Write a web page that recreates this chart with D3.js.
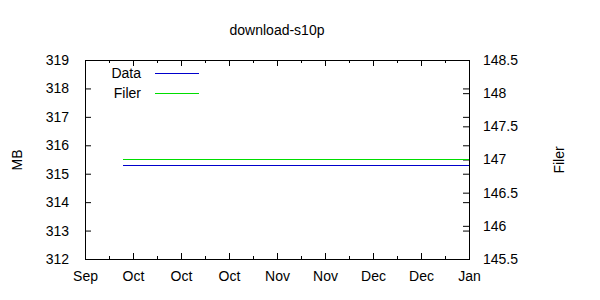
<!DOCTYPE html>
<html>
<head>
<meta charset="utf-8">
<script src="https://cdn.jsdelivr.net/npm/d3@7"></script>
<style>
  body { margin: 0; background: #fff; }
  text { font-family: "Liberation Sans", Arial, sans-serif; font-size: 14px; fill: #000; }
</style>
</head>
<body>
<div id="chart"></div>
<script>
// data
var dates = ["2007-09-28", "2008-01-07"];
var mbValues = [315.3, 315.3];
var filerValues = [147.0, 147.0];
var xTickDates = ["2007-09-17", "2007-10-01", "2007-10-15", "2007-10-29", "2007-11-12",
                  "2007-11-26", "2007-12-10", "2007-12-24", "2008-01-07"];
var yTicks = [312, 313, 314, 315, 316, 317, 318, 319];
var y2Ticks = [145.5, 146, 146.5, 147, 147.5, 148, 148.5];
var seriesNames = ["Data", "Filer"];
var seriesColors = ["#0000cc", "#00dd00"];

var width = 600, height = 300;
var plotL = 85, plotR = 469, plotT = 60, plotB = 259;

var parse = d3.timeParse("%Y-%m-%d");
var xt = xTickDates.map(parse);

var svg = d3.select("#chart").append("svg")
    .attr("width", width).attr("height", height);

var x = d3.scaleTime().domain([xt[0], xt[xt.length - 1]]).range([plotL, plotR]);
var y = d3.scaleLinear().domain([312, 319]).range([plotB, plotT]);
var y2 = d3.scaleLinear().domain([145.5, 148.5]).range([plotB, plotT]);

// minor ticks halfway between the major ones
var minor = [];
for (var i = 0; i < xt.length - 1; i++) {
  minor.push(new Date((xt[i].getTime() + xt[i + 1].getTime()) / 2));
}

var fmt = d3.timeFormat("%b");
var noDomain = g => g.select(".domain").remove();

// bottom axis
svg.append("g").attr("transform", "translate(0," + plotB + ")")
  .call(d3.axisBottom(x).tickValues(xt).tickFormat(fmt).tickSizeInner(-6).tickSizeOuter(0).tickPadding(12))
  .call(noDomain);
svg.append("g").attr("transform", "translate(0," + plotB + ")")
  .call(d3.axisBottom(x).tickValues(minor).tickFormat("").tickSizeInner(-3).tickSizeOuter(0))
  .call(noDomain);
// top mirror
svg.append("g").attr("transform", "translate(0," + plotT + ")")
  .call(d3.axisTop(x).tickValues(xt).tickFormat("").tickSizeInner(-6).tickSizeOuter(0))
  .call(noDomain);
svg.append("g").attr("transform", "translate(0," + plotT + ")")
  .call(d3.axisTop(x).tickValues(minor).tickFormat("").tickSizeInner(-3).tickSizeOuter(0))
  .call(noDomain);

// left axis
svg.append("g").attr("transform", "translate(" + plotL + ",0)")
  .call(d3.axisLeft(y).tickValues(yTicks).tickFormat(d3.format("d")).tickSizeInner(-6).tickSizeOuter(0).tickPadding(16))
  .call(noDomain);
// right mirror of left ticks
svg.append("g").attr("transform", "translate(" + plotR + ",0)")
  .call(d3.axisRight(y).tickValues(yTicks).tickFormat("").tickSizeInner(-6).tickSizeOuter(0))
  .call(noDomain);
// right axis (Filer)
svg.append("g").attr("transform", "translate(" + plotR + ",0)")
  .call(d3.axisRight(y2).tickValues(y2Ticks).tickFormat(d3.format("")).tickSizeInner(-6).tickSizeOuter(0).tickPadding(14))
  .call(noDomain);

svg.selectAll(".tick line").attr("stroke", "#000");
svg.selectAll(".tick text").attr("font-family", null).attr("font-size", null);

// frame
svg.append("rect")
  .attr("x", plotL).attr("y", plotT)
  .attr("width", plotR - plotL).attr("height", plotB - plotT)
  .attr("fill", "none").attr("stroke", "#000").attr("stroke-width", 1)
  .attr("shape-rendering", "crispEdges");

// lines
var d1 = dates.map((d, i) => ({ t: parse(d), v: mbValues[i] }));
var d2 = dates.map((d, i) => ({ t: parse(d), v: filerValues[i] }));

svg.append("path").datum(d1)
  .attr("fill", "none").attr("stroke", seriesColors[0]).attr("stroke-width", 1)
  .attr("shape-rendering", "crispEdges")
  .attr("d", d3.line().x(d => x(d.t)).y(d => y(d.v)));
svg.append("path").datum(d2)
  .attr("fill", "none").attr("stroke", seriesColors[1]).attr("stroke-width", 1)
  .attr("shape-rendering", "crispEdges")
  .attr("d", d3.line().x(d => x(d.t)).y(d => y2(d.v)));

// legend
var legend = svg.append("g");
seriesNames.forEach(function (name, i) {
  var ly = 73 + i * 20;
  legend.append("text").attr("x", 141).attr("y", ly).attr("dy", "0.35em")
    .attr("text-anchor", "end").text(name);
  legend.append("line").attr("x1", 155).attr("x2", 199).attr("y1", ly).attr("y2", ly)
    .attr("stroke", seriesColors[i]).attr("stroke-width", 1)
    .attr("shape-rendering", "crispEdges");
});

// title and axis labels
svg.append("text").attr("x", 277).attr("y", 30).attr("dy", "0.35em")
  .attr("text-anchor", "middle").text("download-s10p");
svg.append("text").attr("transform", "translate(17,160) rotate(-90)").attr("dy", "0.35em")
  .attr("text-anchor", "middle").text("MB");
svg.append("text").attr("transform", "translate(559,160) rotate(-90)").attr("dy", "0.35em")
  .attr("text-anchor", "middle").text("Filer");
</script>
</body>
</html>
